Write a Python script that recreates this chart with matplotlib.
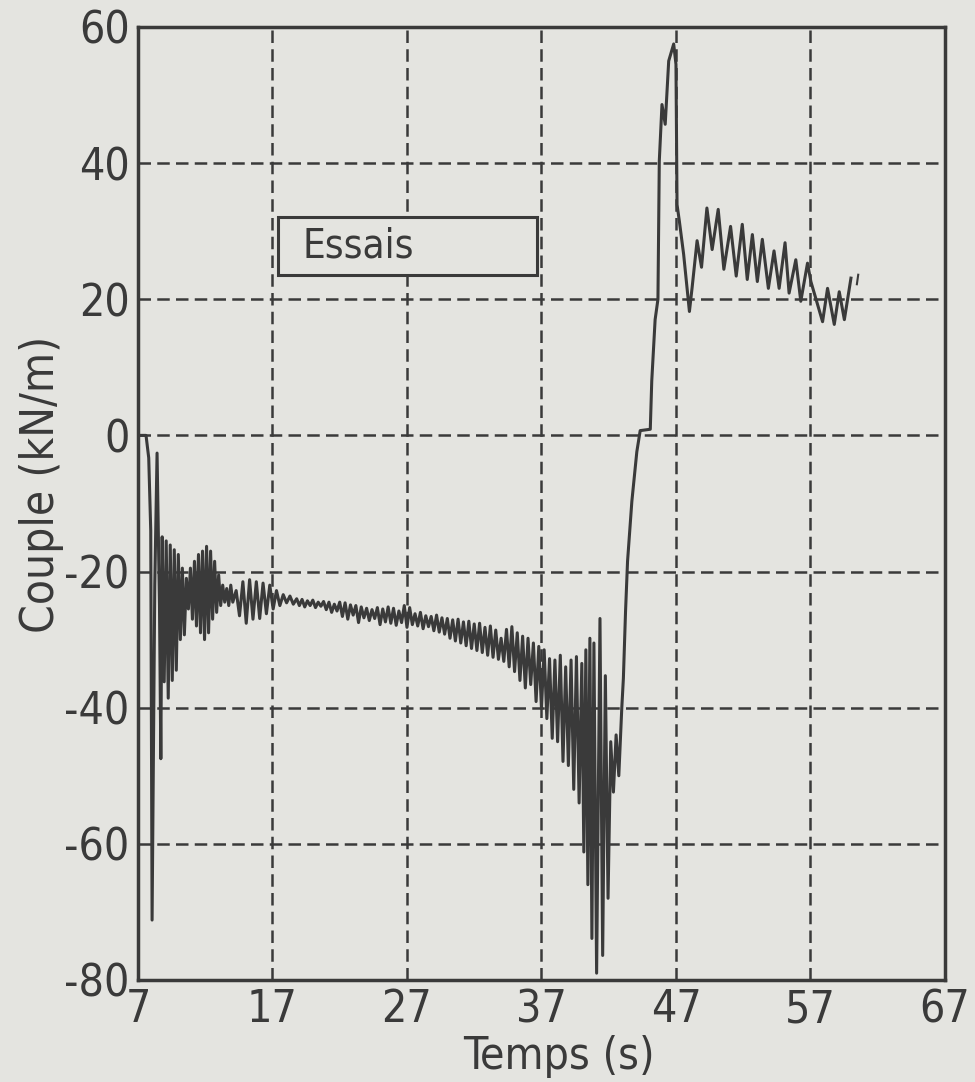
import numpy as np
import matplotlib
matplotlib.use("Agg")
import matplotlib.pyplot as plt
from matplotlib.patches import Rectangle

plt.rcParams['font.family'] = ['DejaVu Sans']
plt.rcParams['font.stretch'] = 'condensed'
plt.rcParams['axes.unicode_minus'] = False

# temps (s) / couple (kN/m)
t_start = [7.0, 7.6, 7.8, 7.95, 8.05, 8.25, 8.42, 8.6, 8.7, 8.8,
           8.95, 9.1, 9.25, 9.4, 9.55, 9.7, 9.85, 10.0, 10.15, 10.3,
           10.45, 10.6, 10.75, 10.9, 11.05, 11.2, 11.35, 11.5, 11.65, 11.8,
           11.95, 12.1, 12.25, 12.4, 12.55, 12.7, 12.85, 13.0, 13.15, 13.3,
           13.45, 13.6, 13.75, 13.9]
c_start = [0, 0, -3.3, -14, -71.2, -22, -2.6, -25, -47.5, -14.9,
           -36.2, -15.5, -38.6, -16.1, -36, -16.8, -34.5, -17.5, -30, -19.5,
           -29.3, -21, -25.5, -19.5, -27, -18.5, -28, -17.5, -29, -17,
           -30, -16.3, -29, -17, -27, -18.5, -26, -20.5, -25, -22,
           -24.5, -22.5, -25, -22]

t_packet = [14.05, 14.3, 14.55, 14.8, 15.05, 15.3, 15.55, 15.8, 16.05, 16.3,
            16.55, 16.8, 17.05, 17.3, 17.55, 17.8, 18.05, 18.3, 18.55]
c_packet = [-24.5, -22.8, -26.5, -21.5, -27.6, -21.2, -27, -21.5, -26.9, -21.7,
            -26.2, -22, -25.5, -22.8, -25, -23.4, -24.6, -23.6, -24.8]

t_drift = [18.8, 19.0, 19.2, 19.4, 19.6, 19.8, 20.0, 20.2, 20.4, 20.6,
           20.8, 21.0, 21.2, 21.4, 21.6, 21.8, 22.0, 22.2, 22.4, 22.6,
           22.8, 23.0, 23.2, 23.4, 23.6, 23.8, 24.0, 24.2, 24.4, 24.6,
           24.8, 25.0, 25.2, 25.4, 25.6, 25.8, 26.0, 26.2, 26.4, 26.6,
           26.8, 27.0, 27.2, 27.4, 27.6, 27.8, 28.0, 28.2, 28.4, 28.6,
           28.8, 29.0, 29.2, 29.4, 29.6, 29.8, 30.0, 30.2, 30.4, 30.6,
           30.8, 31.0, 31.2, 31.4, 31.6, 31.8, 32.0, 32.2, 32.4, 32.6,
           32.8, 33.0, 33.2, 33.4, 33.6, 33.8]
c_drift = [-24.0, -25.0, -24.1, -25.2, -24.3, -25.0, -24.2, -25.3, -24.5, -25.1,
           -24.4, -25.6, -24.5, -26.0, -24.8, -25.8, -24.5, -26.6, -24.6, -27.0,
           -24.9, -26.4, -25.0, -27.5, -25.2, -26.8, -25.4, -27.2, -25.6, -26.9,
           -25.3, -27.8, -25.5, -27.4, -25.2, -27.6, -25.4, -27.9, -25.8, -27.5,
           -25.0, -28.2, -25.3, -27.8, -26.2, -28.0, -26.0, -28.4, -26.5, -28.1,
           -26.6, -28.7, -26.4, -28.9, -26.8, -29.2, -26.9, -29.8, -27.1, -30.2,
           -27.0, -30.5, -27.4, -30.9, -27.3, -31.3, -27.7, -31.6, -27.6, -31.9,
           -28.2, -32.3, -28.0, -32.6, -28.6, -32.9]

t_burst = [34.0, 34.2, 34.4, 34.6, 34.8, 35.0, 35.2, 35.4, 35.6, 35.8,
           36.0, 36.2, 36.4, 36.6, 36.8, 37.0, 37.2, 37.4, 37.6, 37.8,
           38.0, 38.2, 38.4, 38.6, 38.8, 39.0, 39.2, 39.4, 39.6, 39.8,
           40.0, 40.15, 40.3, 40.45, 40.6, 40.75, 40.9, 41.1, 41.35, 41.55,
           41.75, 41.95, 42.15, 42.35, 42.55, 42.75, 42.97, 43.09, 43.25, 43.4]
c_burst = [-29.8, -33.2, -28.5, -34.0, -28.1, -34.7, -29.0, -36.0, -29.5, -37.1,
           -29.8, -36.6, -30.5, -39.1, -31.0, -40.1, -31.5, -41.6, -32.8, -44.5,
           -33.0, -45.0, -32.3, -47.9, -34.0, -48.5, -33.0, -52.0, -32.5, -54.0,
           -33.5, -61.2, -31.5, -66.0, -29.8, -73.9, -30.5, -79.0, -26.9, -76.4,
           -35.3, -68.0, -45.0, -52.4, -44.0, -50.0, -40.1, -35.7, -25.9, -18.5]

t_end = [43.72, 44.09, 44.34, 45.09, 45.2, 45.45, 45.66, 45.76, 45.96, 46.2,
         46.46, 46.83, 47.0, 47.08, 47.25, 47.57, 48.0, 48.2, 48.57, 48.9,
         49.3, 49.69, 50.14, 50.56, 51.06, 51.48, 51.93, 52.3, 52.68, 53.05,
         53.42, 53.87, 54.29, 54.67, 55.11, 55.41, 55.91, 56.28, 56.78, 57.03,
         57.9, 58.27, 58.77, 59.14, 59.52, 60.01]
c_end = [-9.7, -2.4, 0.7, 0.9, 8, 17, 20, 40.3, 48.6, 45.7,
         55, 57.5, 54.5, 33.9, 31.5, 26.6, 18.2, 21.7, 28.6, 24.7,
         33.4, 27.3, 33.2, 24.4, 30.7, 23.4, 31, 22.9, 29.5, 22.6,
         28.8, 21.6, 27.1, 21.6, 28.3, 20.9, 25.8, 19.7, 25.3, 22.6,
         16.7, 21.6, 16.3, 21.1, 17, 23.1]

# petit trait isole en bout de courbe
t_tick = [60.45, 60.55]
c_tick = [22.2, 23.6]

x_ticks = [7, 17, 27, 37, 47, 57, 67]
y_ticks = [-80, -60, -40, -20, 0, 20, 40, 60]

temps = np.array(t_start + t_packet + t_drift + t_burst + t_end)
couple = np.array(c_start + c_packet + c_drift + c_burst + c_end)

bg = '#e4e4e0'
ink = '#3a3a3a'

fig = plt.figure(figsize=(9.75, 10.82), dpi=100, facecolor=bg)
ax = fig.add_axes([0.1415, 0.0943, 0.8277, 0.8808], facecolor=bg)

ax.plot(temps, couple, color=ink, lw=2.2, zorder=3)
ax.plot(t_tick, c_tick, color=ink, lw=1.5, zorder=3)

ax.set_xlim(7, 67)
ax.set_ylim(-80, 60)
ax.set_xticks(x_ticks)
ax.set_yticks(y_ticks)
ax.grid(True, color=ink, lw=1.8, linestyle=(0, (5, 2.5)), zorder=1)
ax.set_axisbelow(True)
for s in ax.spines.values():
    s.set_linewidth(2.5)
    s.set_color(ink)
ax.tick_params(length=0, pad=6, labelsize=32, colors=ink)

ax.set_xlabel("Temps (s)", fontsize=32, color=ink)
ax.xaxis.set_label_coords(0.522, -0.058)
ax.set_ylabel("Couple (kN/m)", fontsize=33, color=ink)
ax.yaxis.set_label_coords(-0.092, 0.52)

# cadre "Essais"
ax.add_patch(Rectangle((0.1735, 0.740), 0.3205, 0.0606, transform=ax.transAxes,
                       facecolor=bg, edgecolor=ink, lw=2.2, zorder=4))
ax.text(0.204, 0.770, "Essais", transform=ax.transAxes, fontsize=29,
        color=ink, va='center', ha='left', zorder=5)

fig.savefig("out.png", dpi=100, facecolor=bg)
